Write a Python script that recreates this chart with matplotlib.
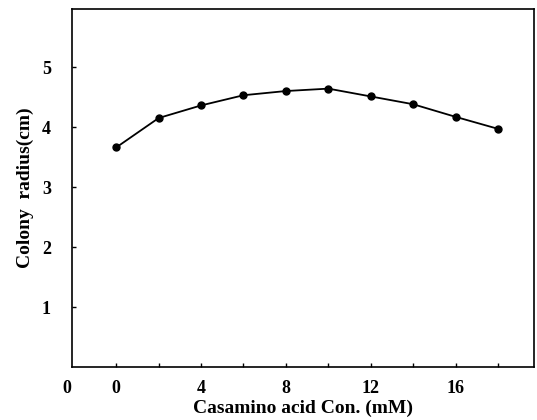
import matplotlib
matplotlib.use('Agg')
import matplotlib.pyplot as plt
import matplotlib.transforms as mtransforms

# casamino acid concentration (mM) and colony radius (cm)
conc = [0, 2, 4, 6, 8, 10, 12, 14, 16, 18]
radius = [3.66, 4.15, 4.36, 4.53, 4.60, 4.64, 4.51, 4.38, 4.17, 3.97]
xtick_vals = [0, 4, 8, 12, 16]
ytick_vals = [1, 2, 3, 4, 5]

plt.rcParams['font.family'] = ['Liberation Serif', 'DejaVu Serif']
plt.rcParams['font.weight'] = 'bold'
plt.rcParams['axes.labelweight'] = 'bold'

fig = plt.figure(figsize=(5.37, 4.2), dpi=100)
ax = fig.add_axes([0.1335, 0.126, 0.861, 0.853])

ax.plot(conc, radius, color='black', linewidth=1.3, marker='o', markersize=5)

ax.set_xlim(-2.1, 19.7)
ax.set_ylim(0, 5.97)
ax.set_xticks(xtick_vals)
ax.set_xticks([2, 6, 10, 14, 18], minor=True)
ax.set_yticks(ytick_vals)
ax.tick_params(direction='in', length=3, width=1, labelsize=13, pad=9)
ax.tick_params(which='minor', direction='in', length=3, width=1)
ax.tick_params(axis='y', pad=15)

# origin label under the corner
trans = mtransforms.blended_transform_factory(ax.transAxes, ax.transAxes)
ax.text(-0.01, -0.035, '0', transform=trans, ha='center', va='top',
        fontsize=13, fontweight='bold')

ax.set_xlabel('Casamino acid Con. (mM)', fontsize=14, labelpad=2)
ax.set_ylabel('Colony  radius(cm)', fontsize=14, labelpad=6)

for s in ax.spines.values():
    s.set_linewidth(1.2)

fig.savefig('out.png', dpi=100)
